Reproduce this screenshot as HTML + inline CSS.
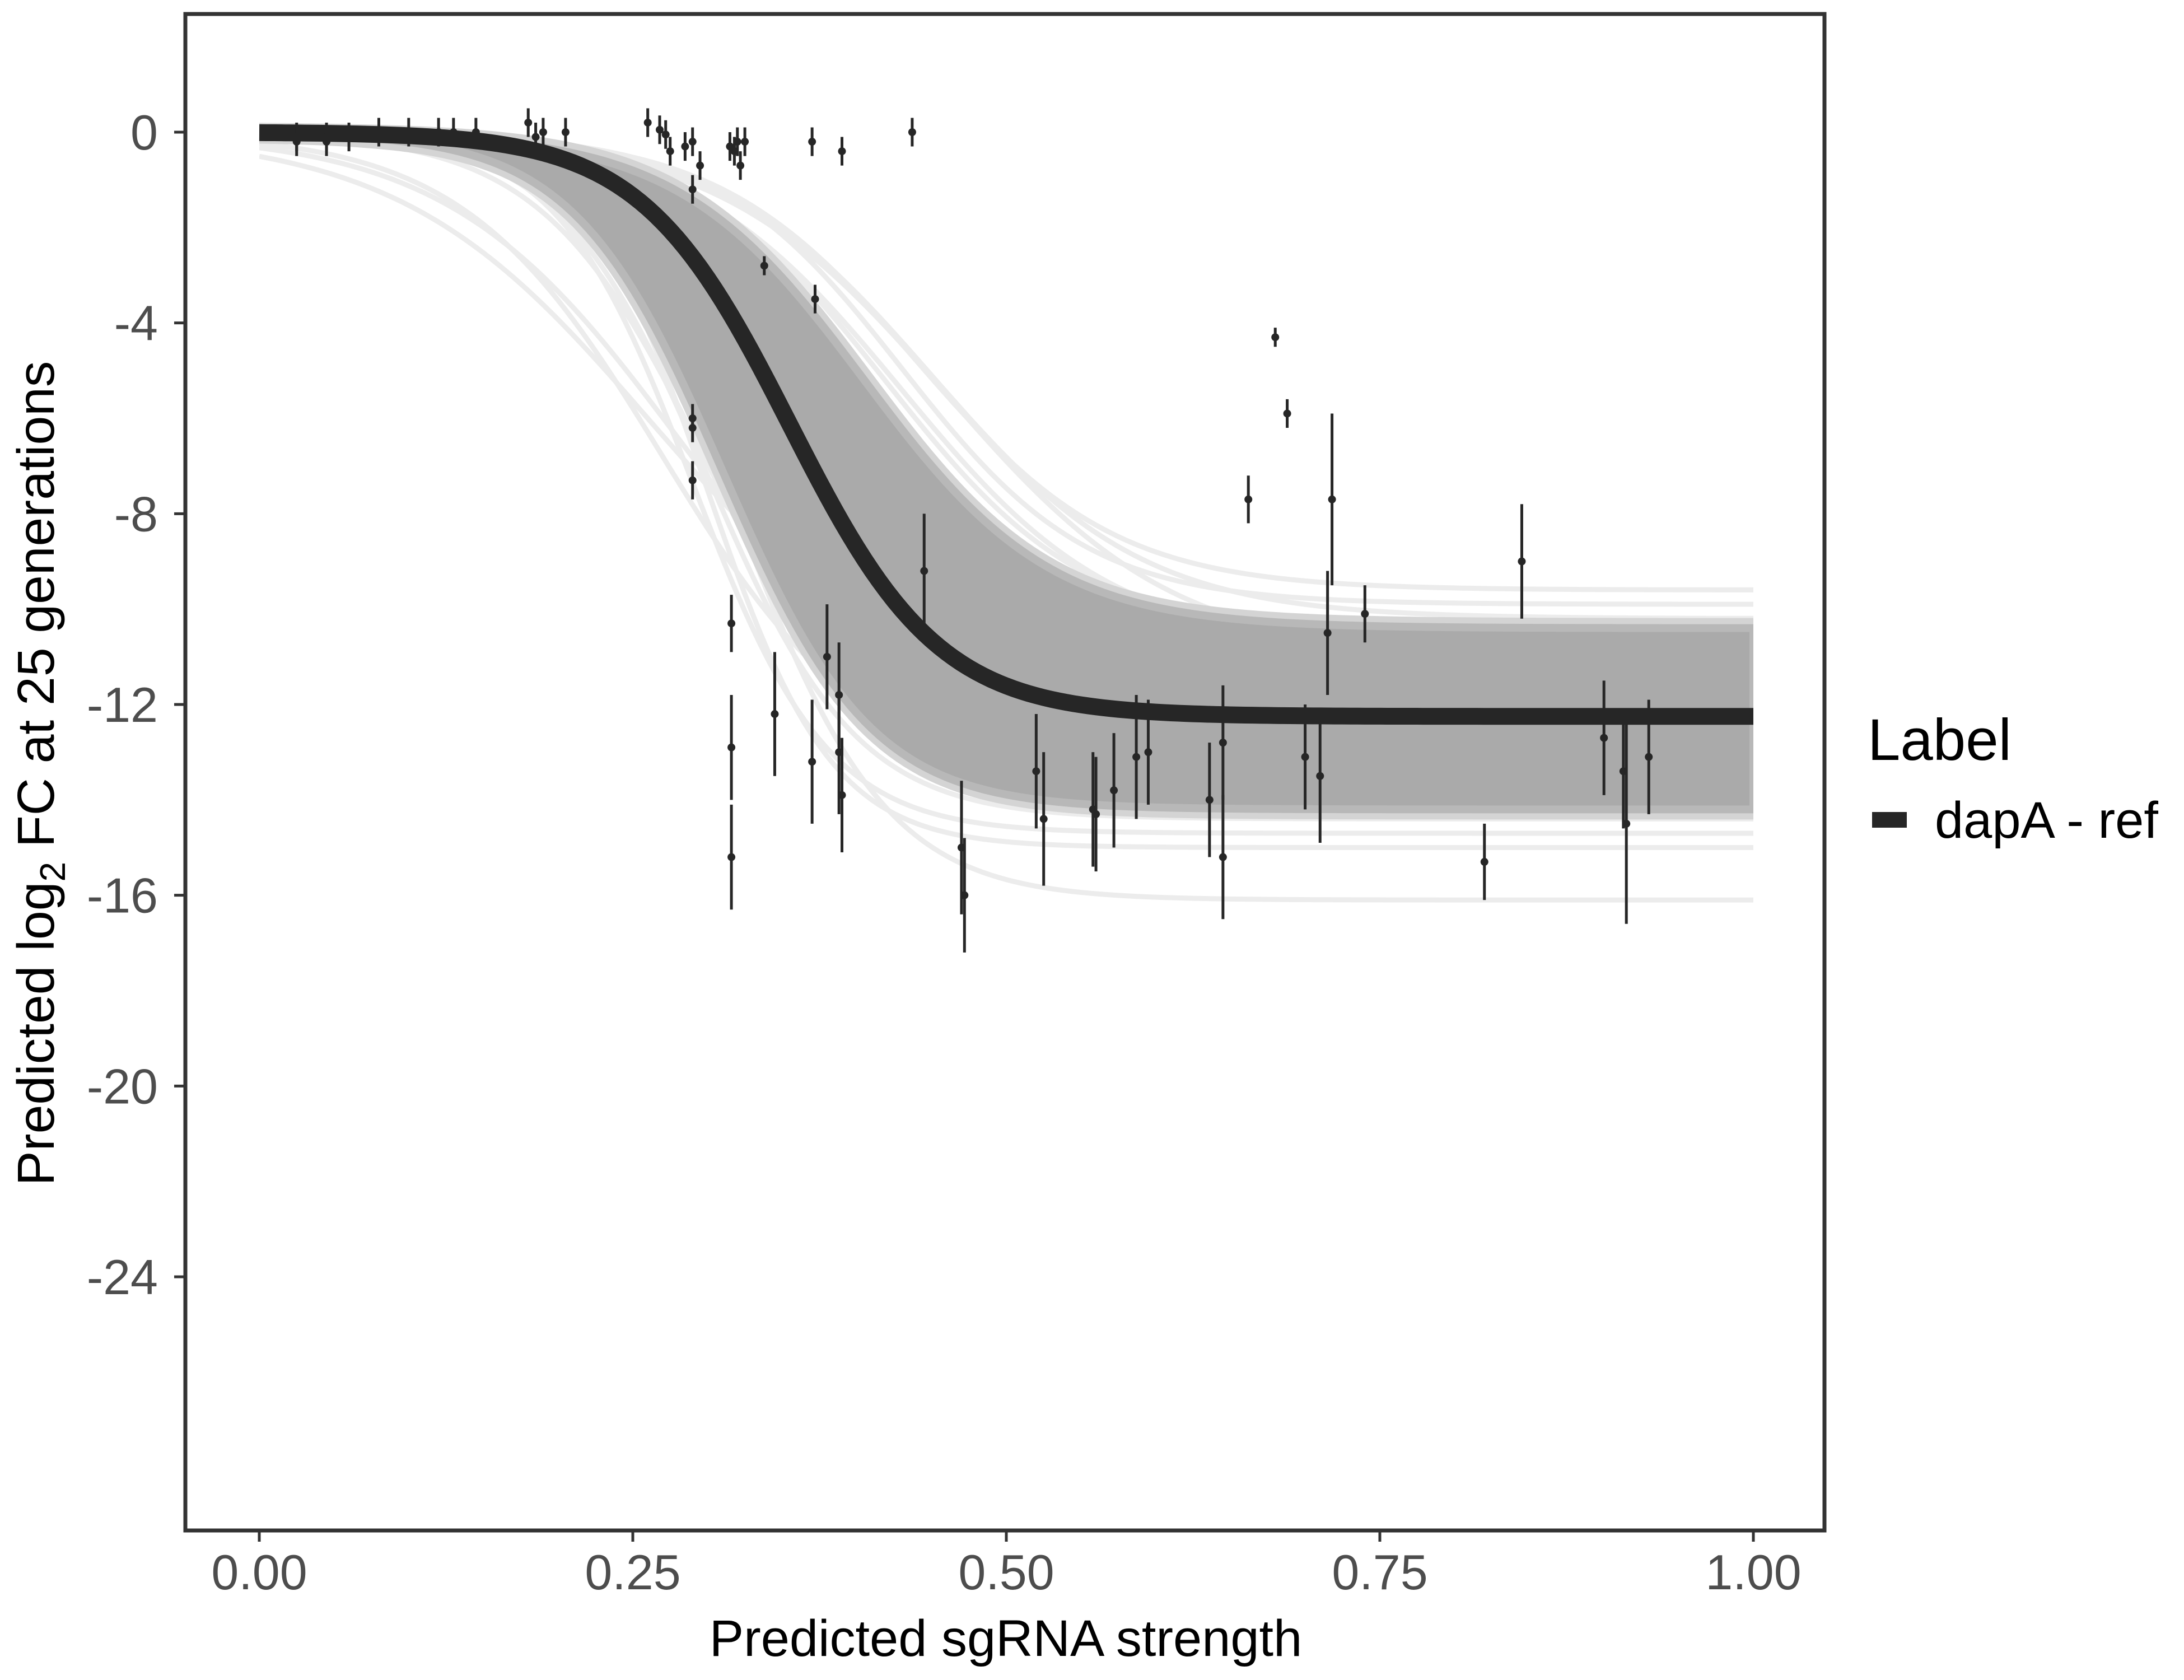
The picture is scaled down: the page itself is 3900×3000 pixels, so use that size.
<!DOCTYPE html>
<html><head><meta charset="utf-8"><style>
html,body{margin:0;padding:0;background:#fff}
svg{display:block;font-family:"Liberation Sans",sans-serif}
</style></head><body>
<svg id="chart" width="3900" height="3000" viewBox="0 0 3900 3000">
<defs><clipPath id="xclip"><rect x="463" y="0" width="2668" height="2733"/></clipPath></defs>
<g id="band" clip-path="url(#xclip)"></g>
<g id="main"></g>
<g id="points"></g>
<g id="axes"></g>
<rect x="331" y="25" width="2927" height="2708" fill="none" stroke="#333" stroke-width="7"/>
<text x="1796" y="2957" font-size="92" text-anchor="middle" fill="#000">Predicted sgRNA strength</text>
<text transform="translate(96,1381) rotate(-90)" font-size="93" text-anchor="middle" fill="#000">Predicted  log<tspan font-size="64" dy="20">2</tspan><tspan dy="-20"> FC at 25 generations</tspan></text>
<text x="3335" y="1357" font-size="105" fill="#000">Label</text>
<rect x="3343" y="1450" width="62" height="28" fill="#262626"/>
<text x="3455" y="1496" font-size="92" fill="#000">dapA - ref</text>
</svg>
<script>
const xTicks=[0,0.25,0.5,0.75,1.0];
const xTickLabels=["0.00","0.25","0.50","0.75","1.00"];
const yTicks=[0,-4,-8,-12,-16,-20,-24];
const yTickLabels=["0","-4","-8","-12","-16","-20","-24"];
const fitL=-12.25, fitX0=0.355, fitK=20;
const bandCoreL=[-10.4,-14.2];
const bandCoreX0=[0.405,0.31];
const bandCoreK=[16,20];
const faintL=[-9.6,-9.9,-10.2,-10.5,-14.4,-14.7,-15.0,-16.1,-11.0,-13.6,-12.0,-12.8,-10.8,-13.9];
const faintX0=[0.44,0.43,0.45,0.42,0.30,0.29,0.30,0.32,0.46,0.27,0.26,0.28,0.43,0.30];
const faintK=[15,16,14,15,20,22,24,20,13,15,12,13,14,18];
const ptX=[0.025,0.025,0.045,0.045,0.06,0.08,0.1,0.12,0.13,0.145,0.18,0.185,0.19,0.205,
0.26,0.268,0.272,0.275,0.285,0.29,0.29,0.295,0.315,0.318,0.32,0.322,0.325,0.37,0.39,0.437,
0.338,0.372,0.29,0.29,0.29,
0.316,0.316,0.316,0.345,0.37,0.38,0.388,0.388,0.39,
0.445,0.47,0.472,
0.52,0.525,0.558,0.56,0.572,0.587,0.595,0.636,0.645,0.645,0.662,0.68,0.688,0.7,0.71,0.715,0.718,0.74,0.82,0.845,0.9,0.913,0.915,0.93];
const ptY=[-0.1,-0.2,-0.1,-0.2,-0.1,0,0,0,0,0,0.2,-0.1,0,0,
0.2,0.05,-0.05,-0.4,-0.3,-0.2,-1.2,-0.7,-0.3,-0.4,-0.2,-0.7,-0.2,-0.2,-0.4,0,
-2.8,-3.5,-6.0,-6.2,-7.3,
-10.3,-12.9,-15.2,-12.2,-13.2,-11.0,-11.8,-13.0,-13.9,
-9.2,-15.0,-16.0,
-13.4,-14.4,-14.2,-14.3,-13.8,-13.1,-13.0,-14.0,-12.8,-15.2,-7.7,-4.3,-5.9,-13.1,-13.5,-10.5,-7.7,-10.1,-15.3,-9.0,-12.7,-13.4,-14.5,-13.1];
const ptErr=[0.3,0.3,0.3,0.3,0.3,0.3,0.3,0.3,0.3,0.3,0.3,0.3,0.3,0.3,
0.3,0.3,0.3,0.3,0.3,0.3,0.3,0.3,0.3,0.3,0.3,0.3,0.3,0.3,0.3,0.3,
0.2,0.3,0.3,0.3,0.4,
0.6,1.1,1.1,1.3,1.3,1.1,1.1,1.3,1.2,
1.2,1.4,1.2,
1.2,1.4,1.2,1.2,1.2,1.3,1.1,1.2,1.2,1.3,0.5,0.2,0.3,1.1,1.4,1.3,1.8,0.6,0.8,1.2,1.2,1.2,2.1,1.2];

const NS='http://www.w3.org/2000/svg';
const sx=v=>463+v*(3131-463);
const sy=v=>236+(v/-24)*(2280-236);
const logi=(x,L,x0,k)=>L/(1+Math.exp(-k*(x-x0)));
function curvePts(L,x0,k){const p=[];for(let i=0;i<=200;i++){const x=i/200;p.push([sx(x),sy(logi(x,L,x0,k))]);}return p;}
function mk(tag,attrs,parent){const e=document.createElementNS(NS,tag);for(const a in attrs)e.setAttribute(a,attrs[a]);parent.appendChild(e);return e;}
const band=document.getElementById('band');
for(let i=0;i<faintL.length;i++){
  const p=curvePts(faintL[i],faintX0[i],faintK[i]);
  const e=mk('polyline',{points:p.map(q=>q.join(',')).join(' '),fill:'none',stroke:'#ececec','stroke-width':9},band);
  
  
}
const up=curvePts(bandCoreL[0],bandCoreX0[0],bandCoreK[0]);
const lo=curvePts(bandCoreL[1],bandCoreX0[1],bandCoreK[1]).reverse();
const halo=mk('polygon',{points:up.concat(lo).map(q=>q.join(',')).join(' '),fill:'#aaaaaa',stroke:'#d4d4d4','stroke-width':36},band);


const poly=mk('polygon',{points:up.concat(lo).map(q=>q.join(',')).join(' '),fill:'#aaaaaa',stroke:'#b8b8b8','stroke-width':14},band);


const mainG=document.getElementById('main');
const mp=curvePts(fitL,fitX0,fitK);
const ml=mk('polyline',{points:mp.map(q=>q.join(',')).join(' '),fill:'none',stroke:'#262626','stroke-width':30},mainG);


const pg=document.getElementById('points');
for(let i=0;i<ptX.length;i++){
  const x=sx(ptX[i]);
  const eb=mk('line',{x1:x,x2:x,y1:sy(ptY[i]+ptErr[i]),y2:sy(ptY[i]-ptErr[i]),stroke:'#262626','stroke-width':5},pg);
  
  
  const c=mk('circle',{cx:x,cy:sy(ptY[i]),r:7,fill:'#262626'},pg);
  
  
}
const ax=document.getElementById('axes');
xTicks.forEach((v,i)=>{
  const t=mk('line',{x1:sx(v),x2:sx(v),y1:2733,y2:2753,stroke:'#333','stroke-width':5},ax);
  
  
  const l=mk('text',{x:sx(v),y:2838,'font-size':88,'text-anchor':'middle',fill:'#4d4d4d'},ax);
  l.textContent=xTickLabels[i];
  
  
});
yTicks.forEach((v,i)=>{
  const t=mk('line',{x1:311,x2:331,y1:sy(v),y2:sy(v),stroke:'#333','stroke-width':5},ax);
  
  
  const l=mk('text',{x:282,y:sy(v)+31,'font-size':88,'text-anchor':'end',fill:'#4d4d4d'},ax);
  l.textContent=yTickLabels[i];
  
  
});
</script>
</body></html>
